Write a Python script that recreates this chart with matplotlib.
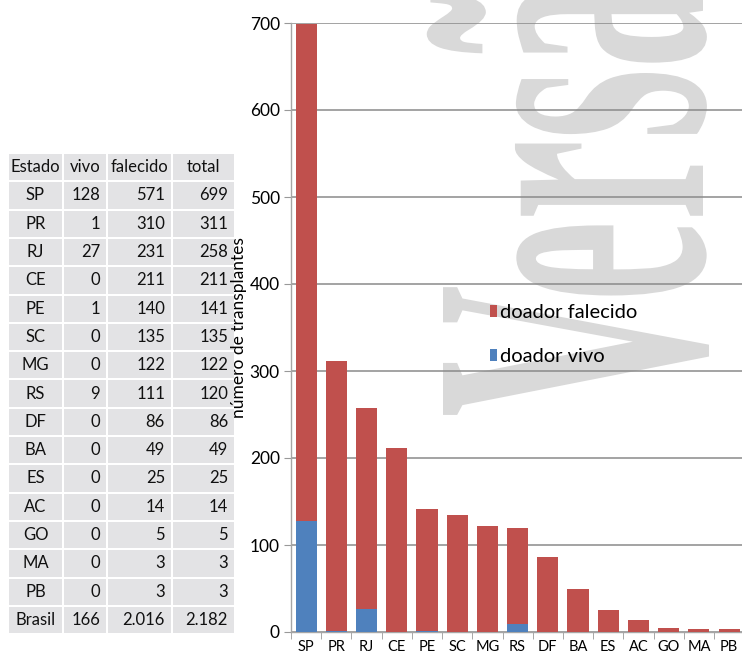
import numpy as np
import matplotlib
matplotlib.use("Agg")
import matplotlib.pyplot as plt
from matplotlib.patches import Rectangle, PathPatch
from matplotlib.textpath import TextPath
from matplotlib.font_manager import FontProperties
from matplotlib.transforms import Affine2D

# ---------------- data ----------------
estados = ["SP", "PR", "RJ", "CE", "PE", "SC", "MG", "RS", "DF", "BA", "ES", "AC", "GO", "MA", "PB"]
vivo = [128, 1, 27, 0, 1, 0, 0, 9, 0, 0, 0, 0, 0, 0, 0]
falecido = [571, 310, 231, 211, 140, 135, 122, 111, 86, 49, 25, 14, 5, 3, 3]
total = [699, 311, 258, 211, 141, 135, 122, 120, 86, 49, 25, 14, 5, 3, 3]
brasil_row = ["Brasil", "166", "2.016", "2.182"]
header = ["Estado", "vivo", "falecido", "total"]
yticks = [0, 100, 200, 300, 400, 500, 600, 700]
legend_labels = ["doador falecido", "doador vivo"]
ylabel = "número de transplantes"
watermark = "Versão"

RED = "#c0504d"
BLUE = "#4f81bd"
FONT = "Lato"

W, H = 742, 653
fig = plt.figure(figsize=(W / 100, H / 100), dpi=100)

# background axes in pixel (image) coordinates
bg = fig.add_axes([0, 0, 1, 1], zorder=0)
bg.set_xlim(0, W)
bg.set_ylim(H, 0)
bg.set_autoscale_on(False)
bg.axis("off")

# ---- watermark (condensed, rotated serif text) ----
fp = FontProperties(family="Liberation Serif", weight="bold")
capV = TextPath((0, 0), "V", size=1, prop=fp).vertices[:, 1].max()
vVers = TextPath((0, 0), watermark[:4], size=1, prop=fp).vertices
x_lo, x_hi = vVers[:, 0].min(), vVers[:, 0].max()
sy = 260 / capV
sx = 344 / (x_hi - x_lo)
X0 = 703
Y0 = 417 + sx * x_lo
tp = TextPath((0, 0), watermark, size=1, prop=fp)
tr = Affine2D(np.array([[0.0, -sy, X0], [-sx, 0.0, Y0], [0.0, 0.0, 1.0]])) + bg.transData
bg.add_patch(PathPatch(tp, transform=tr, facecolor="#d9d9d9", edgecolor="none"))

# ---- table ----
col_edges = [8, 63, 107, 172, 235]
row_top = 153
row_h = 28.3
rows = [header] + [[e, str(v), str(f), str(t)] for e, v, f, t in zip(estados, vivo, falecido, total)] + [brasil_row]
for i, row in enumerate(rows):
    y0 = row_top + i * row_h
    yc = y0 + row_h / 2
    for j in range(4):
        x0, x1 = col_edges[j], col_edges[j + 1]
        bg.add_patch(Rectangle((x0 + 1, y0 + 1), x1 - x0 - 2, row_h - 2,
                               facecolor="#e3e3e5", edgecolor="none"))
        txt = row[j]
        if i == 0:
            if j == 0:
                xx, ha = x0 + 2, "left"
            else:
                xx, ha = (x0 + x1) / 2, "center"
        else:
            if j == 0:
                xx, ha = (x0 + x1) / 2, "center"
            else:
                xx, ha = x1 - 7, "right"
        bg.text(xx, yc, txt, ha=ha, va="center", fontsize=12, family=FONT, color="#111111")

# ---- bar chart ----
ax = fig.add_axes([291 / W, 21 / H, 1 - 291 / W + 0.003, 609 / H], zorder=1)
ax.set_facecolor("none")
x = np.arange(len(estados))
b_vivo = ax.bar(x, vivo, width=0.7, color=BLUE, zorder=3)
b_fal = ax.bar(x, falecido, width=0.7, bottom=vivo, color=RED, zorder=3)

ax.set_xlim(-0.5, len(estados) - 0.5)
ax.set_ylim(0, 700)
ax.set_yticks(yticks)
ax.set_yticklabels([str(v) for v in yticks], fontsize=12.5, family=FONT)
ax.yaxis.grid(True, color="#8a8a8a", linewidth=1.1, zorder=0)
ax.set_axisbelow(True)
ax.set_xticks(x)
ax.set_xticklabels(estados, fontsize=10.5, family=FONT)
ax.set_xticks(np.arange(-0.5, len(estados)), minor=True)
ax.tick_params(axis="x", which="major", length=0, pad=6)
ax.tick_params(axis="x", which="minor", length=5, color="#999999", direction="out")
ax.tick_params(axis="y", length=5, color="#999999", pad=3)
for s in ["top", "right"]:
    ax.spines[s].set_visible(False)
for s in ["left", "bottom"]:
    ax.spines[s].set_color("#a6a6a6")
    ax.spines[s].set_linewidth(1.0)

ax.set_ylabel(ylabel, fontsize=12.5, family=FONT, labelpad=2)

leg = ax.legend([b_fal, b_vivo], legend_labels, loc="upper left",
                bbox_to_anchor=(490 / W, 1 - 304 / H), bbox_transform=fig.transFigure,
                frameon=False, prop={"family": FONT, "size": 14.5},
                handlelength=0.35, handleheight=0.5, handletextpad=0.15,
                labelspacing=1.35, borderpad=0, borderaxespad=0)

fig.savefig("out.png", dpi=100)
